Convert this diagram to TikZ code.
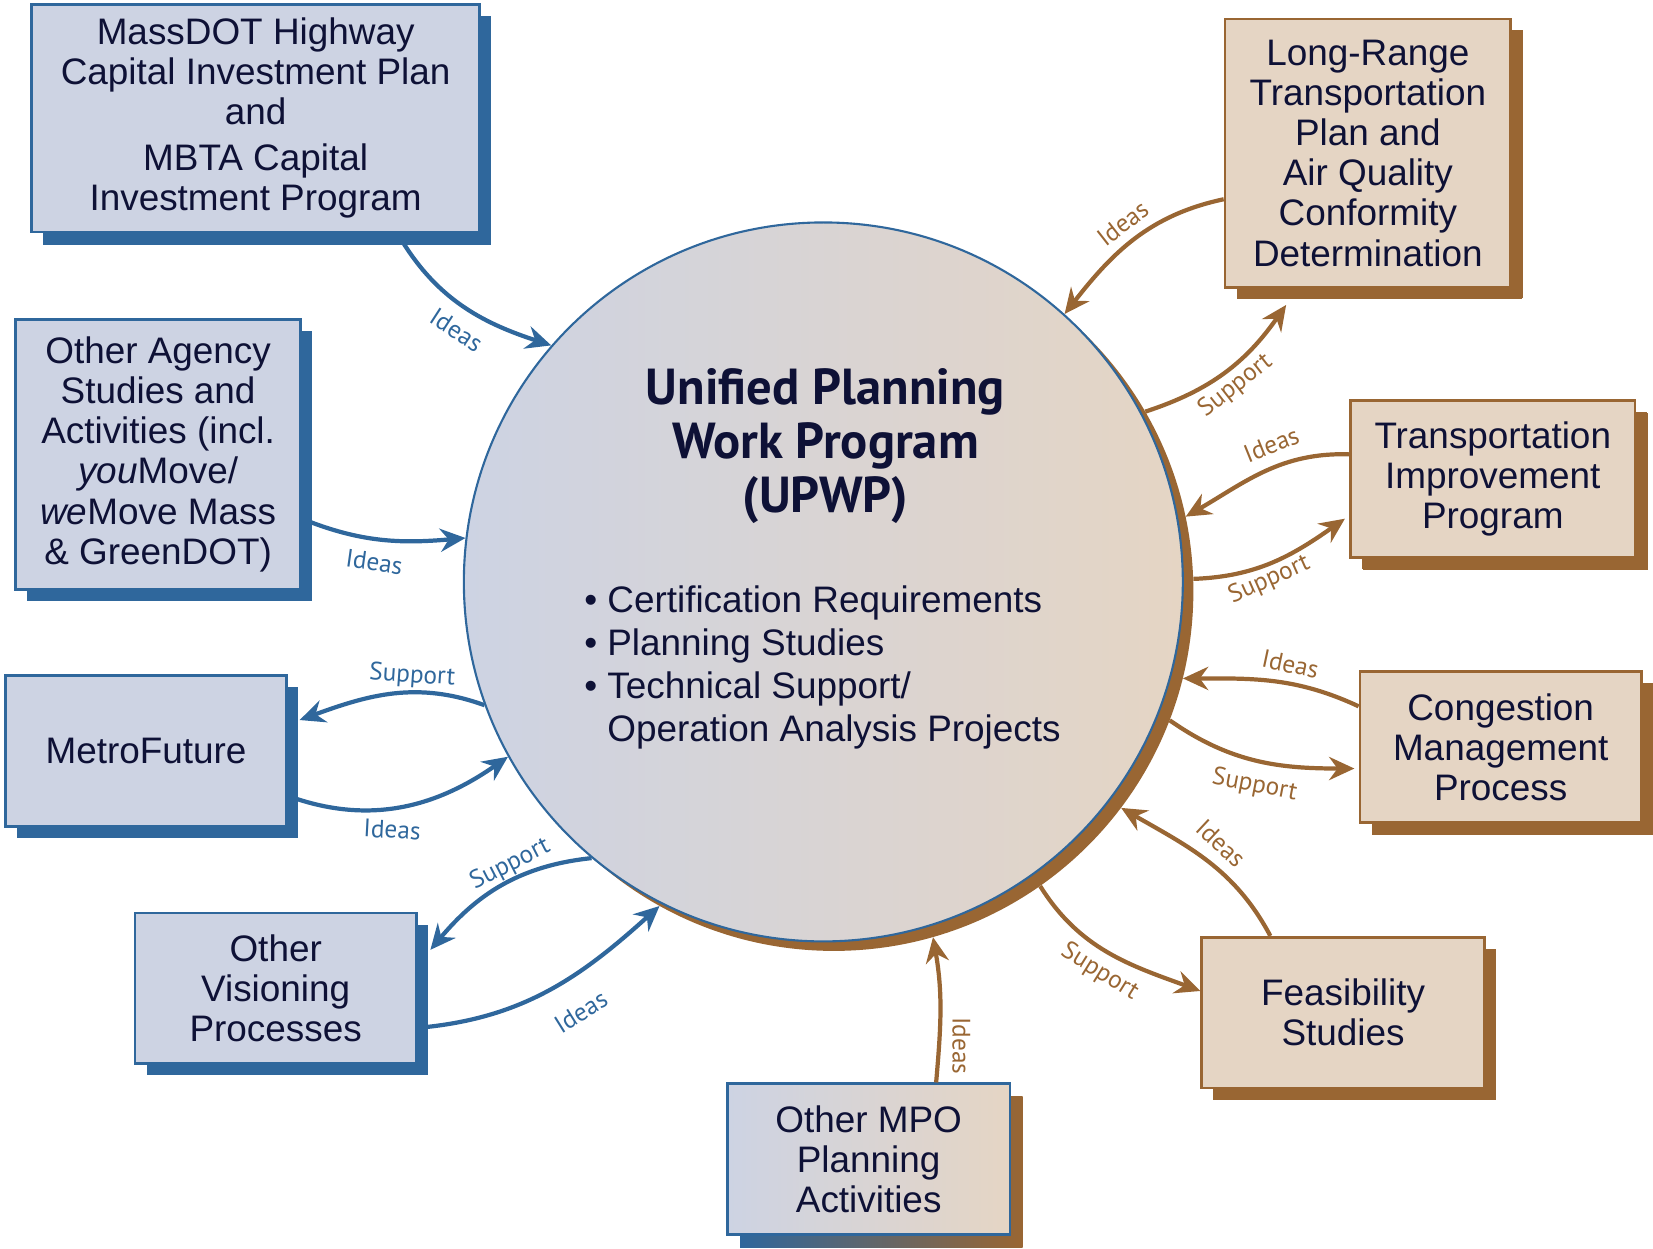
\documentclass[tikz,border=0pt]{standalone}
\usepackage{fontspec}
\setmainfont{Liberation Sans}
\newfontfamily\titlefont{PT Sans}
\usetikzlibrary{arrows.meta,shadows}
\definecolor{navy}{HTML}{0E1136}
\definecolor{mblue}{HTML}{2F679C}
\definecolor{mbrown}{HTML}{996633}
\definecolor{bfill}{HTML}{CDD3E3}
\definecolor{tfill}{HTML}{E5D5C4}
\begin{document}
\begin{tikzpicture}[x=1pt,y=-1pt,
  boxtext/.style={font=\fontsize{35}{38}\selectfont, text=navy, align=center, inner sep=0pt},
  bluebox/.style={boxtext, draw=mblue, line width=2.5pt, fill=bfill,
    drop shadow={shadow xshift=11pt, shadow yshift=-11pt, fill=mblue, opacity=1}},
  tanbox/.style={boxtext, draw=mbrown, line width=2.5pt, fill=tfill,
    drop shadow={shadow xshift=11pt, shadow yshift=-11pt, fill=mbrown, opacity=1}},
  tipstyle/.style={-{Stealth[length=24pt,width=22pt,inset=8pt]}},
  conb/.style={line width=4pt, draw=mblue, tipstyle},
  conbr/.style={line width=4pt, draw=mbrown, tipstyle},
  lblb/.style={font=\titlefont\fontsize{24}{24}\selectfont, text=mblue, inner sep=0pt},
  lblbr/.style={font=\titlefont\fontsize{24}{24}\selectfont, text=mbrown, inner sep=0pt}
]
\useasboundingbox (0,0) rectangle (1568,1184);

% central circle with shadow
\node[circle, minimum size=682pt, fill=mbrown, inner sep=0pt] (upwpsh) at (791,561) {};
\node[circle, minimum size=682pt, draw=mblue, line width=2pt, left color=bfill, right color=tfill, inner sep=0pt] (upwp) at (781,552) {};
\node[font=\titlefont\bfseries\fontsize{48}{51}\selectfont, text=navy, align=center, inner sep=0pt] (title) at (783,423) {Unified Planning\\Work Program\\(UPWP)};
\node[font=\fontsize{35}{40.7}\selectfont, text=navy, align=left, anchor=west, inner sep=0pt] (bul) at (554,633)
  {\textbullet\ Certification Requirements\\\textbullet\ Planning Studies\\\textbullet\ Technical Support/\\\phantom{\textbullet\ }Operation Analysis Projects};

% boxes
\node[bluebox, minimum width=425pt, minimum height=216pt, drop shadow={shadow xshift=11pt, shadow yshift=-12pt, fill=mblue, opacity=1}] (massdot) at (242.5,112)
  {MassDOT Highway\\Capital Investment Plan\\and\\[5pt]MBTA Capital\\Investment Program};
\node[bluebox, minimum width=270pt, minimum height=256pt] (agency) at (150,431)
  {Other Agency\\Studies and\\Activities (incl.\\\textit{you}Move/\\\textit{we}Move Mass\\\& GreenDOT)};
\node[bluebox, minimum width=267pt, minimum height=143pt] (metro) at (138.5,712.5) {MetroFuture};
\node[bluebox, minimum width=267pt, minimum height=143pt] (vision) at (261.5,937.5) {Other\\Visioning\\Processes};

\shade[left color=mblue, right color=mbrown] (702,1040) rectangle (970,1183);
\node[boxtext, draw=mblue, line width=2.5pt, left color=bfill, right color=tfill, minimum width=268pt, minimum height=143pt] (mpo) at (824,1099.5) {Other MPO\\Planning\\Activities};

\node[tanbox, minimum width=268pt, minimum height=143pt] (feas) at (1274,960.5) {Feasibility\\Studies};
\node[tanbox, minimum width=267pt, minimum height=143pt, drop shadow={shadow xshift=11pt, shadow yshift=-12pt, fill=mbrown, opacity=1}] (cong) at (1423.5,708.5) {Congestion\\Management\\Process};
\node[tanbox, minimum width=270pt, minimum height=149pt, drop shadow={shadow xshift=12pt, shadow yshift=-12pt, fill=mbrown, opacity=1}] (tip) at (1416,454.5) {Transportation\\Improvement\\Program};
\node[tanbox, minimum width=271pt, minimum height=255pt, drop shadow={shadow xshift=12pt, shadow yshift=-10pt, fill=mbrown, opacity=1}] (lrtp) at (1297.5,145.5) {Long-Range\\Transportation\\Plan and\\Air Quality\\Conformity\\Determination};

% connectors (left, blue)
\draw[conb] ([xshift=134.5pt]massdot.south) to[out=-60,in=162] (upwp.139.2);
\draw[conb] ([yshift=-61pt]agency.east) to[out=-22,in=185] (upwp.173.8);
\draw[conb] (upwp.200.3) to[out=160,in=20] ([xshift=11pt,yshift=29.5pt]metro.east);
\draw[conb] ([yshift=-42.5pt]metro.east) to[out=-20,in=215] (upwp.209.8);
\draw[conb] (upwp.230.7) to[out=186,in=50] ([xshift=12pt,yshift=36.5pt]vision.east);
\draw[conb] ([yshift=-37.5pt]vision.east) to[out=5,in=222] (upwpsh.241.4);

% connectors (right, brown)
\draw[conbr] ([xshift=64pt]mpo.north) to[out=85,in=-80] (upwpsh.-74.3);
\draw[conbr] (upwpsh.-55.3) to[out=-58,in=160] ([yshift=20.5pt]feas.west);
\draw[conbr] ([xshift=-69pt]feas.north) to[out=118,in=-30] (upwpsh.-37.3);
\draw[conbr] ([yshift=38.5pt]cong.west) to[out=155,in=0] (upwpsh.-14.9);
\draw[conbr] (upwpsh.-21.5) to[out=-35,in=180] ([xshift=-4pt,yshift=-20.5pt]cong.west);
\draw[conbr] ([yshift=23.5pt]tip.west) to[out=178,in=30] (upwpsh.12.8);
\draw[conbr] (upwpsh.2.7) to[out=2,in=215] ([xshift=-4pt,yshift=-37.5pt]tip.west);
\draw[conbr] ([yshift=-43.5pt]lrtp.west) to[out=192,in=52] (upwp.48.2);
\draw[conbr] (upwpsh.30.5) to[out=18,in=235] ([xshift=-77.5pt,yshift=-15pt]lrtp.south);

% labels
\node[lblb, rotate=-33] (l1) at (433,313) {Ideas};
\node[lblb, rotate=-8] (l2) at (355,533) {Ideas};
\node[lblb, rotate=-4] (l3) at (391,641) {Support};
\node[lblb, rotate=-3] (l4) at (372,787) {Ideas};
\node[lblb, rotate=27] (l5) at (484,820) {Support};
\node[lblb, rotate=32] (l6) at (551,960) {Ideas};
\node[lblbr, rotate=-90] (l7) at (912,992) {Ideas};
\node[lblbr, rotate=-32] (l8) at (1043,922) {Support};
\node[lblbr, rotate=-43] (l9) at (1158,800) {Ideas};
\node[lblbr, rotate=-12] (l10) at (1224,630) {Ideas};
\node[lblbr, rotate=-11] (l11) at (1190,745) {Support};
\node[lblbr, rotate=22] (l12) at (1206,422) {Ideas};
\node[lblbr, rotate=24] (l13) at (1204,550) {Support};
\node[lblbr, rotate=38] (l14) at (1065,212) {Ideas};
\node[lblbr, rotate=38] (l15) at (1172,366) {Support};
\end{tikzpicture}
\end{document}
